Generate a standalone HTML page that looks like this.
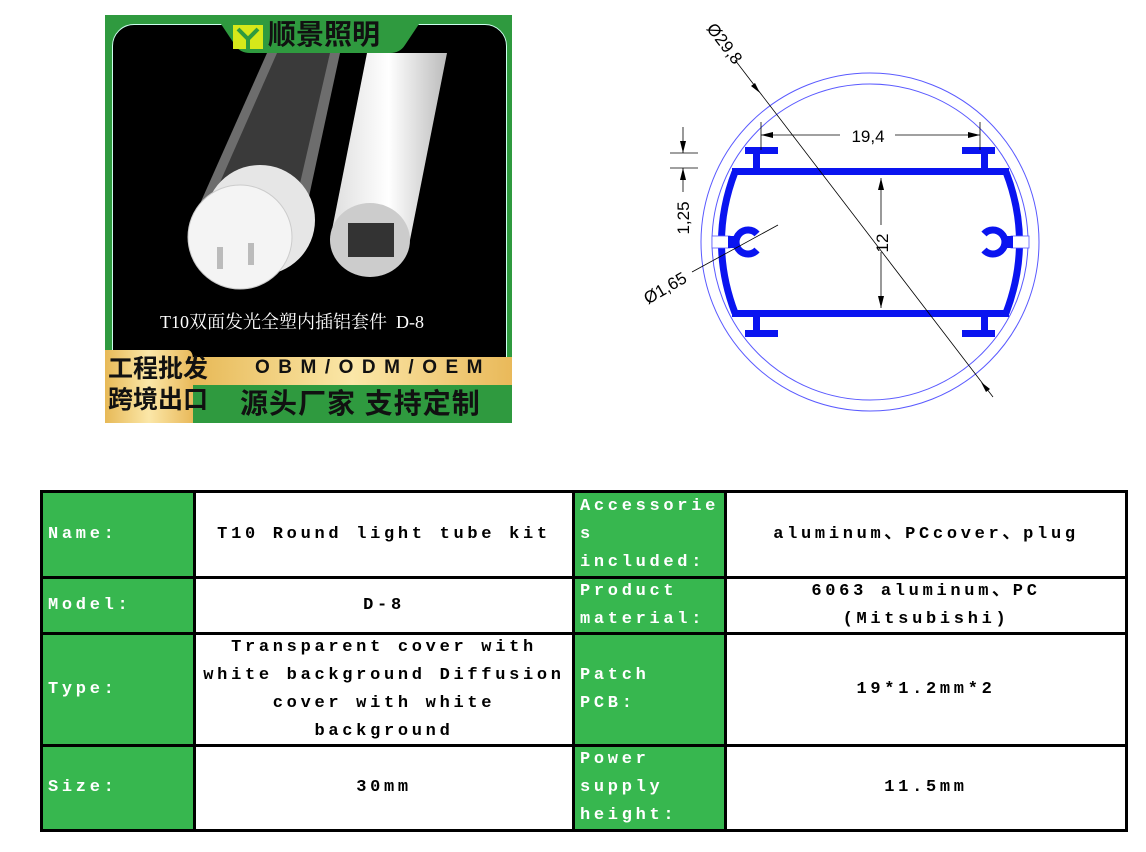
<!DOCTYPE html>
<html><head><meta charset="utf-8"><style>
body{margin:0;width:1146px;height:852px;background:#fff;position:relative;overflow:hidden;font-family:"Liberation Sans","Noto Sans CJK SC",sans-serif}
.a{position:absolute}
.t{position:absolute;font-family:"Liberation Mono",monospace;font-weight:bold;font-size:17px;letter-spacing:3.7px;line-height:28px;color:#000;display:flex;align-items:center;box-sizing:border-box}
.g{background:#37b74f;color:#fff;padding-left:5px}
.w{background:#fff;justify-content:center;text-align:center}
</style></head><body>

<!-- photo -->
<div class="a" style="left:105px;top:15px;width:407px;height:408px;background:#2f9a3f"></div>
<div class="a" style="left:112px;top:24px;width:393px;height:335px;background:#000;border-radius:22px 22px 0 0;border:1px solid #cfe"></div>
<svg class="a" style="left:105px;top:15px" width="407" height="408">
 <path d="M110 0 L130 30 Q135 38 145 38 L285 38 Q295 38 300 30 L320 0 Z" fill="#2f9a3f"/>
 <rect x="128" y="10" width="30" height="24" fill="#d6e81a"/>
 <path d="M133 14 L143 24 L153 14" stroke="#2f9a3f" stroke-width="4" fill="none"/>
 <rect x="141" y="23" width="4" height="11" fill="#2f9a3f"/>
 <defs><linearGradient id="tb" x1="0" x2="1"><stop offset="0" stop-color="#ddd"/><stop offset=".5" stop-color="#fff"/><stop offset="1" stop-color="#bbb"/></linearGradient>
 <linearGradient id="gd" x1="0" x2="1"><stop offset="0" stop-color="#e7b957"/><stop offset=".5" stop-color="#fbe7a8"/><stop offset="1" stop-color="#e9b95a"/></linearGradient></defs>
 <path d="M162 38 L235 38 L200 200 L90 200 Z" fill="#888" opacity=".8"/>
 <path d="M172 38 L225 38 L190 190 L105 190 Z" fill="#3a3a3a"/>
 <path d="M262 38 L342 38 L305 225 L225 225 Z" fill="url(#tb)"/>
 <ellipse cx="265" cy="225" rx="40" ry="37" fill="#ccc"/>
 <rect x="243" y="208" width="46" height="34" fill="#333"/>
 <circle cx="155" cy="205" r="55" fill="#e6e6e6"/>
 <circle cx="135" cy="222" r="52" fill="#f4f4f4" stroke="#ccc"/>
 <rect x="112" y="232" width="6" height="22" fill="#bbb"/><rect x="143" y="228" width="6" height="22" fill="#bbb"/>
 <path d="M0 335 L82 335 Q88 335 88 345 L88 408 L0 408 Z" fill="url(#gd)"/>
 <rect x="88" y="342" width="319" height="28" fill="url(#gd)"/>
 <rect x="88" y="370" width="319" height="38" fill="#2f9a3f"/>
</svg>
<div class="a" style="left:268px;top:18px;font-size:28px;font-weight:bold;color:#111;line-height:34px">顺景照明</div>
<div class="a" style="left:160px;top:308px;font-family:'Liberation Serif','Noto Serif CJK SC',serif;font-size:18px;color:#fff">T10双面发光全塑内插铝套件 &nbsp;D-8</div>
<div class="a" style="left:108px;top:354px;font-size:25px;font-weight:bold;color:#111;line-height:31px">工程批发<br>跨境出口</div>
<div class="a" style="left:255px;top:357px;font-size:19px;font-weight:bold;color:#111;letter-spacing:8.5px">OBM/ODM/OEM</div>
<div class="a" style="left:240px;top:386px;font-size:28px;font-weight:bold;color:#111;letter-spacing:1px;line-height:36px">源头厂家 支持定制</div>

<!-- drawing -->
<svg class="a" style="left:0;top:0" width="1146" height="460">
 <circle cx="870" cy="242" r="169" fill="none" stroke="#5a5aff" stroke-width="1"/>
 <circle cx="870" cy="242" r="158" fill="none" stroke="#5a5aff" stroke-width="1"/>
 <g fill="#0a14f0">
  <rect x="732" y="168" width="277" height="7"/>
  <rect x="732" y="310" width="277" height="7"/>
  <rect x="745" y="147" width="33" height="7"/><rect x="753" y="147" width="7" height="24"/>
  <rect x="962" y="147" width="33" height="7"/><rect x="981" y="147" width="7" height="24"/>
  <rect x="745" y="330" width="33" height="7"/><rect x="753" y="314" width="7" height="22"/>
  <rect x="962" y="330" width="33" height="7"/><rect x="981" y="314" width="7" height="22"/>
 </g>
 <path d="M735 172 Q708 242 735 313" fill="none" stroke="#0a14f0" stroke-width="7"/>
 <path d="M1006 172 Q1033 242 1006 313" fill="none" stroke="#0a14f0" stroke-width="7"/>
 <rect x="712" y="236" width="18" height="12" fill="#fff" stroke="#5a5aff" stroke-width=".8"/>
 <rect x="1011" y="236" width="18" height="12" fill="#fff" stroke="#5a5aff" stroke-width=".8"/>
 <path d="M757 234 A12 12 0 1 0 757 250" fill="none" stroke="#0a14f0" stroke-width="7"/>
 <rect x="728" y="236" width="8" height="12" fill="#0a14f0"/>
 <path d="M984 234 A12 12 0 1 1 984 250" fill="none" stroke="#0a14f0" stroke-width="7"/>
 <rect x="1005" y="236" width="8" height="12" fill="#0a14f0"/>
 <g stroke="#000" stroke-width=".8" fill="none">
  <line x1="735" y1="60" x2="993" y2="397"/>
  <line x1="761" y1="122" x2="761" y2="150"/><line x1="980" y1="122" x2="980" y2="150"/>
  <line x1="761" y1="135" x2="840" y2="135"/><line x1="895" y1="135" x2="980" y2="135"/>
  <line x1="881" y1="178" x2="881" y2="225"/><line x1="881" y1="252" x2="881" y2="308"/>
  <line x1="670" y1="153" x2="698" y2="153"/><line x1="670" y1="168" x2="698" y2="168"/>
  <line x1="683" y1="127" x2="683" y2="153"/><line x1="683" y1="168" x2="683" y2="192"/>
  <line x1="692" y1="272" x2="778" y2="225"/>
 </g>
 <g fill="#000">
  <path d="M761 135 l12 -3 v6z"/><path d="M980 135 l-12 -3 v6z"/>
  <path d="M881 178 l-3 12 h6z"/><path d="M881 308 l-3 -12 h6z"/>
  <path d="M683 153 l-3 -12 h6z"/><path d="M683 168 l-3 12 h6z"/>
  <path d="M760 93 l-9 -7 l4 -3z"/><path d="M981 382 l9 7 l-4 3z"/>
 </g>
 <text x="868" y="142" font-family="Liberation Sans" font-size="17" text-anchor="middle">19,4</text>
 <text transform="translate(888 243) rotate(-90)" font-family="Liberation Sans" font-size="17" text-anchor="middle">12</text>
 <text transform="translate(689 218) rotate(-90)" font-family="Liberation Sans" font-size="17" text-anchor="middle">1,25</text>
 <text transform="translate(720 47) rotate(52.6)" font-family="Liberation Sans" font-size="17" text-anchor="middle">Ø29,8</text>
 <text transform="translate(668 293) rotate(-30)" font-family="Liberation Sans" font-size="17" text-anchor="middle">Ø1,65</text>
</svg>

<!-- table -->
<div class="a" style="left:40px;top:490px;width:1088px;height:342px;background:#000"></div>
<div class="t g" style="left:43px;top:493px;width:150px;height:83px">Name:</div>
<div class="t w" style="left:196px;top:493px;width:376px;height:83px">T10 Round light tube kit</div>
<div class="t g" style="left:575px;top:493px;width:149px;height:83px;align-items:flex-start">Accessorie<br>s<br>included:</div>
<div class="t w" style="left:727px;top:493px;width:398px;height:83px">aluminum、PCcover、plug</div>

<div class="t g" style="left:43px;top:579px;width:150px;height:53px">Model:</div>
<div class="t w" style="left:196px;top:579px;width:376px;height:53px">D-8</div>
<div class="t g" style="left:575px;top:579px;width:149px;height:53px">Product<br>material:</div>
<div class="t w" style="left:727px;top:579px;width:398px;height:53px">6063 aluminum、PC<br>(Mitsubishi)</div>

<div class="t g" style="left:43px;top:635px;width:150px;height:109px">Type:</div>
<div class="t w" style="left:196px;top:635px;width:376px;height:109px">Transparent cover with<br>white background Diffusion<br>cover with white<br>background</div>
<div class="t g" style="left:575px;top:635px;width:149px;height:109px">Patch<br>PCB:</div>
<div class="t w" style="left:727px;top:635px;width:398px;height:109px">19*1.2mm*2</div>

<div class="t g" style="left:43px;top:747px;width:150px;height:82px">Size:</div>
<div class="t w" style="left:196px;top:747px;width:376px;height:82px">30mm</div>
<div class="t g" style="left:575px;top:747px;width:149px;height:82px">Power<br>supply<br>height:</div>
<div class="t w" style="left:727px;top:747px;width:398px;height:82px">11.5mm</div>
</body></html>
